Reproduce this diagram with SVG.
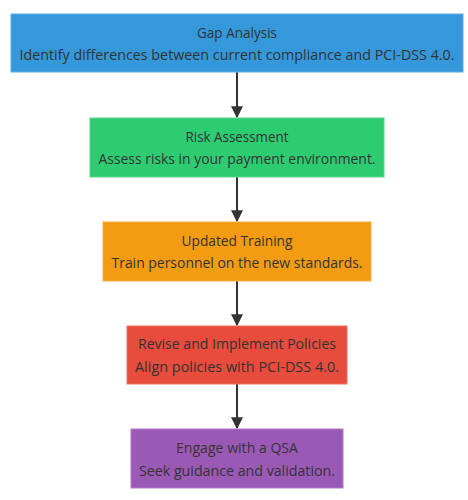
<svg xmlns="http://www.w3.org/2000/svg" width="468" height="500" viewBox="0 0 468 500">
<defs>
<style>
.box{stroke-width:1}
.t{font-family:"Open Sans","DejaVu Sans",sans-serif;font-size:14px;fill:#333;text-anchor:middle;dominant-baseline:central}
.edge{stroke:#333;stroke-width:2;fill:none}
</style>
<marker id="arr" viewBox="0 0 10 10" refX="9" refY="5" markerWidth="6" markerHeight="6" orient="auto" markerUnits="strokeWidth">
<path d="M0,0 L10,5 L0,10 z" fill="#333"/>
</marker>
</defs>
<rect width="468" height="500" fill="#fff"/>
<g id="edges">
<line class="edge" x1="237" y1="72" x2="237" y2="117" marker-end="url(#arr)"/>
<line class="edge" x1="237" y1="177" x2="237" y2="221" marker-end="url(#arr)"/>
<line class="edge" x1="237" y1="281" x2="237" y2="325" marker-end="url(#arr)"/>
<line class="edge" x1="237" y1="384" x2="237" y2="428" marker-end="url(#arr)"/>
</g>
<g id="gap">
<rect class="box" x="11" y="14" width="452" height="58" fill="#3498db" stroke="#5dade2"/>
<text class="t" x="237" y="32" textLength="80" lengthAdjust="spacingAndGlyphs">Gap Analysis</text>
<text class="t" x="237" y="54" textLength="435" lengthAdjust="spacingAndGlyphs">Identify differences between current compliance and PCI-DSS 4.0.</text>
</g>
<g id="risk">
<rect class="box" x="90" y="118" width="294" height="59" fill="#2ecc71" stroke="#58d68d"/>
<text class="t" x="237" y="136" textLength="103" lengthAdjust="spacingAndGlyphs">Risk Assessment</text>
<text class="t" x="237" y="158" textLength="277" lengthAdjust="spacingAndGlyphs">Assess risks in your payment environment.</text>
</g>
<g id="training">
<rect class="box" x="103" y="222" width="268" height="59" fill="#f39c12" stroke="#f5b041"/>
<text class="t" x="237" y="240" textLength="111" lengthAdjust="spacingAndGlyphs">Updated Training</text>
<text class="t" x="237" y="262" textLength="251" lengthAdjust="spacingAndGlyphs">Train personnel on the new standards.</text>
</g>
<g id="policies">
<rect class="box" x="127" y="326" width="220" height="58" fill="#e74c3c" stroke="#ec7063"/>
<text class="t" x="237" y="343" textLength="198" lengthAdjust="spacingAndGlyphs">Revise and Implement Policies</text>
<text class="t" x="237" y="366" textLength="204" lengthAdjust="spacingAndGlyphs">Align policies with PCI-DSS 4.0.</text>
</g>
<g id="qsa">
<rect class="box" x="131" y="429" width="212" height="59" fill="#9b59b6" stroke="#af7ac5"/>
<text class="t" x="237" y="447" textLength="122" lengthAdjust="spacingAndGlyphs">Engage with a QSA</text>
<text class="t" x="237" y="470" textLength="196" lengthAdjust="spacingAndGlyphs">Seek guidance and validation.</text>
</g>
</svg>
